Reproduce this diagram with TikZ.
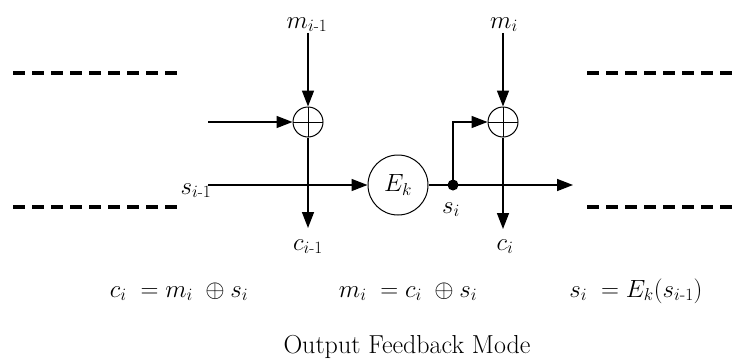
\documentclass[tikz,border=0pt]{standalone}
\usepackage{amsmath}
\usetikzlibrary{arrows.meta}

\tikzset{
  wire/.style={line width=1.5pt},
  sig/.style={wire, -{Triangle[length=16pt,width=12pt]}},
  gap/.style={line width=4pt, dash pattern=on 12pt off 7pt},
  xorc/.style={circle, draw, line width=1pt, minimum size=30pt, inner sep=0pt,
    path picture={\draw[line width=1pt]
      (path picture bounding box.north) -- (path picture bounding box.south)
      (path picture bounding box.west) -- (path picture bounding box.east);}},
  enc/.style={circle, draw, line width=1pt, minimum size=60pt, inner sep=0pt,
    font=\fontsize{27}{32}\selectfont},
  dotc/.style={circle, fill, minimum size=11pt, inner sep=0pt},
  lbl/.style={anchor=base, inner sep=1pt, font=\fontsize{24}{28}\selectfont},
  eqn/.style={anchor=base, font=\fontsize{26}{30}\selectfont},
  capt/.style={anchor=base, font=\fontsize{26}{30}\selectfont},
}

\begin{document}
\begin{tikzpicture}[x=1pt, y=-1pt]
  \useasboundingbox (0,0) rectangle (741,362);
  % rounds before and after
  \draw[gap] (13,73) -- (177,73);
  \draw[gap] (13,207) -- (177,207);
  \draw[gap] (587,73) -- (733,73);
  \draw[gap] (587,207) -- (733,207);

  \node[xorc] (xa) at (308,122) {};
  \node[xorc] (xb) at (503,122) {};
  \node[enc] (ek) at (398,185) {$E_k$};
  \node[dotc] (tap) at (453,185) {};

  \node[lbl] (ma) at (307,28) {$m_{i\text{-}1}$};
  \node[lbl] (mb) at (504,28) {$m_i$};
  \node[lbl] (ca) at (308,250) {$c_{i\text{-}1}$};
  \node[lbl] (cb) at (505,250) {$c_i$};
  \node[lbl] (sa) at (196,194) {$s_{i\text{-}1}$};
  \node[lbl] (sb) at (451,213) {$s_i$};

  \coordinate (fa) at (208,122);
  \coordinate (sin) at (208,185);
  \coordinate (sout) at (573,185);
  \coordinate (ta) at (308,228);
  \coordinate (tb) at (503,229);

  \draw[sig] (ma.south -| xa.north) -- (xa.north);
  \draw[sig] (mb.south -| xb.north) -- (xb.north);
  \draw[sig] (fa) -- (xa.west);
  \draw[sig] (sin) -- (ek.west);
  \draw[sig] (xa.south) -- (ta);
  \draw[sig] (ek.east) -- (sout);
  \draw[sig] (tap.center) |- (xb.west);
  \draw[sig] (xb.south) -- (tb);

  \node[eqn] (eqa) at (179,297) {$c_i\; = m_i\;\oplus s_i$};
  \node[eqn] (eqb) at (408,297) {$m_i\; = c_i\;\oplus s_i$};
  \node[eqn] (eqc) at (636,297) {$s_i\; = E_k(s_{i\text{-}1})$};
  \node[capt] (title) at (407,353) {Output Feedback Mode};
\end{tikzpicture}
\end{document}
